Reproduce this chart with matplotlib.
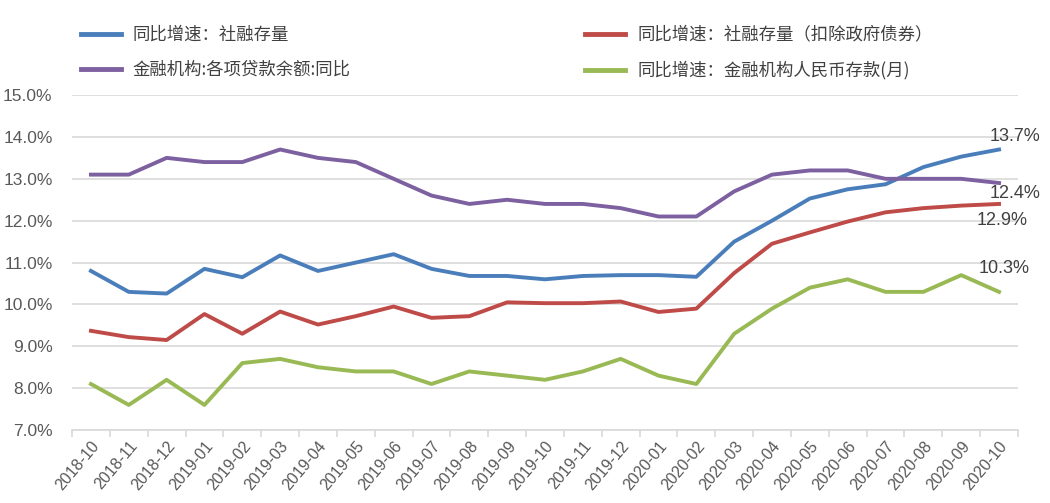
import numpy as np
import matplotlib
matplotlib.use('Agg')
import matplotlib.pyplot as plt
from matplotlib.lines import Line2D

plt.rcParams['font.family'] = ['Noto Sans CJK SC', 'DejaVu Sans']

# Data (percent)
months = ['2018-10', '2018-11', '2018-12', '2019-01', '2019-02', '2019-03', '2019-04',
          '2019-05', '2019-06', '2019-07', '2019-08', '2019-09', '2019-10', '2019-11',
          '2019-12', '2020-01', '2020-02', '2020-03', '2020-04', '2020-05', '2020-06',
          '2020-07', '2020-08', '2020-09', '2020-10']
tsf = [10.8, 10.3, 10.26, 10.85, 10.65, 11.17, 10.8, 11.0, 11.2, 10.85, 10.68, 10.68, 10.6,
       10.68, 10.7, 10.7, 10.66, 11.5, 12.0, 12.53, 12.75, 12.87, 13.28, 13.53, 13.7]
tsf_ex_gov = [9.37, 9.22, 9.15, 9.77, 9.3, 9.83, 9.52, 9.72, 9.95, 9.68, 9.72, 10.05, 10.03,
              10.03, 10.07, 9.82, 9.9, 10.75, 11.45, 11.72, 11.98, 12.2, 12.3, 12.36, 12.4]
loans = [13.1, 13.1, 13.5, 13.4, 13.4, 13.7, 13.5, 13.4, 13.0, 12.6, 12.4, 12.5, 12.4, 12.4,
         12.3, 12.1, 12.1, 12.7, 13.1, 13.2, 13.2, 13.0, 13.0, 13.0, 12.9]
deposits = [8.1, 7.6, 8.2, 7.6, 8.6, 8.7, 8.5, 8.4, 8.4, 8.1, 8.4, 8.3, 8.2, 8.4, 8.7, 8.3,
            8.1, 9.3, 9.9, 10.4, 10.6, 10.3, 10.3, 10.7, 10.3]

labels = ['同比增速：社融存量', '同比增速：社融存量（扣除政府债券）',
          '金融机构:各项贷款余额:同比', '同比增速：金融机构人民币存款(月)']
colors = ['#4a7ebb', '#be4b48', '#7d60a0', '#98b954']
end_notes = [('13.7%', 23.75, 14.0), ('12.4%', 23.75, 12.65), ('12.9%', 23.4, 12.0), ('10.3%', 23.45, 10.85)]

fig = plt.figure(figsize=(10.5, 5.03), dpi=100)
ax = fig.add_axes([0.0686, 0.145, 0.9009, 0.666])

x = np.arange(len(months))
for series, c in zip([tsf, tsf_ex_gov, loans, deposits], colors):
    ax.plot(x, series, color=c, lw=2.8, solid_joinstyle='round', zorder=3)

for txt, xx, yy in end_notes:
    ax.text(xx, yy, txt, fontsize=13, color='#404040', family=['Liberation Sans'],
            ha='left', va='center', zorder=4)

ax.set_xlim(-0.5, len(months) - 0.5)
ax.set_ylim(7.0, 15.0)
ax.set_yticks(np.arange(7, 15.01, 1))
ax.set_yticklabels([f'{v:.1f}%' for v in np.arange(7, 15.01, 1)],
                   fontsize=12.5, color='#595959', family=['Liberation Sans'])
ax.yaxis.grid(True, color='#d9d9d9', lw=1.2)
ax.set_axisbelow(True)
ax.tick_params(axis='y', length=0, pad=14)

ax.set_xticks(x)
ax.set_xticklabels(months, rotation=50, ha='right', rotation_mode='anchor',
                   fontsize=11.5, color='#595959', family=['Liberation Sans'])
ax.set_xticks(np.arange(-0.5, len(months), 1), minor=True)
ax.tick_params(axis='x', which='major', length=0, pad=6)
ax.tick_params(axis='x', which='minor', length=5, color='#d9d9d9', width=1.2)

for s in ['top', 'right', 'left']:
    ax.spines[s].set_visible(False)
ax.spines['bottom'].set_color('#d9d9d9')
ax.spines['bottom'].set_linewidth(1.2)

# legend filled row by row: (0, 1) on top, (2, 3) below
order = [0, 2, 1, 3]
handles = [Line2D([0], [0], color=colors[i], lw=3.5) for i in order]
fig.legend(handles, [labels[i] for i in order], loc='upper left',
           bbox_to_anchor=(0.062, 0.98), ncol=2, frameon=False, fontsize=12.5,
           handlelength=2.3, handletextpad=0.7, columnspacing=13.5,
           labelspacing=1.0, labelcolor='#404040')

fig.savefig('out.png', dpi=100)
